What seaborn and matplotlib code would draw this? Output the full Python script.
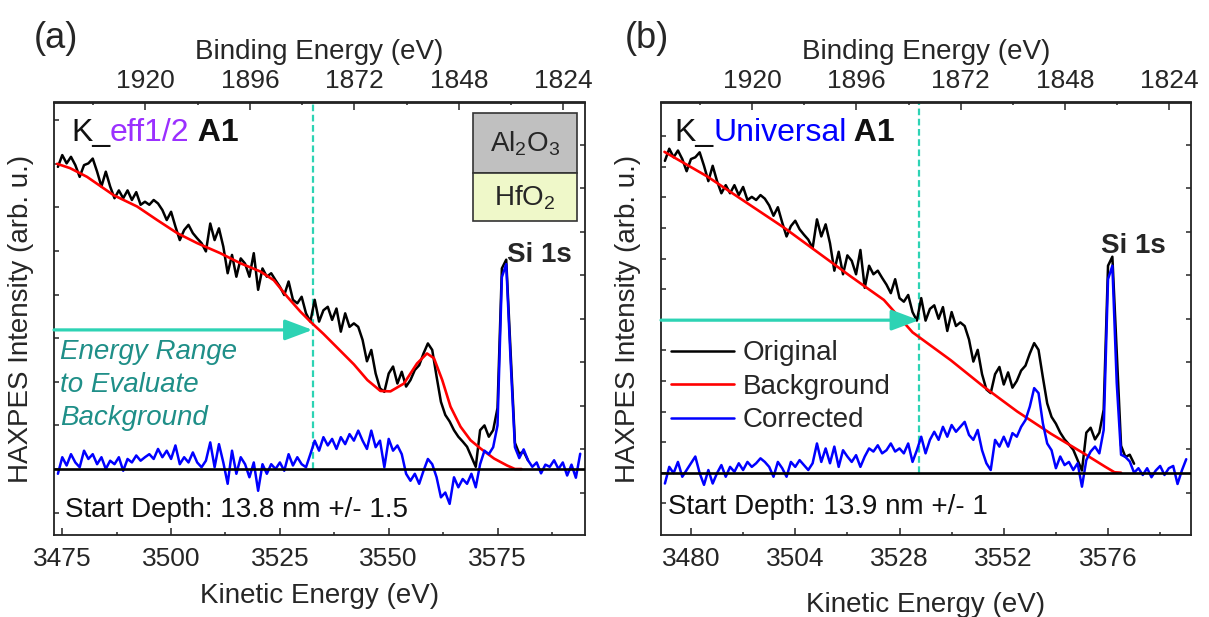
import numpy as np
import pandas as pd
import matplotlib.pyplot as plt
import matplotlib.ticker as mticker
from matplotlib.patches import Rectangle, ArrowStyle
import seaborn as sns

# kinetic energy grids of the spectra (eV)
ke_full = np.arange(3474, 3595)
ke_orig = np.arange(3474, 3583)

# measured spectrum (same for both panels)
original = [
    6.93, 7.20, 7.01, 7.16, 6.97, 6.70, 6.97, 7.01, 7.12, 6.82,
    6.48, 6.82, 6.48, 6.21, 6.39, 6.21, 6.39, 6.17, 6.35, 6.06,
    6.13, 6.06, 6.17, 6.09, 5.94, 5.71, 5.90, 5.56, 5.25, 5.48,
    5.60, 5.41, 5.29, 5.18, 4.99, 5.63, 5.25, 5.52, 5.10, 4.49,
    4.91, 4.41, 4.83, 4.71, 4.41, 4.95, 4.11, 4.60, 4.41, 4.49,
    4.33, 4.18, 3.99, 4.30, 3.88, 3.80, 3.95, 3.57, 3.38, 3.88,
    3.38, 3.64, 3.72, 3.42, 3.68, 3.15, 3.57, 3.26, 3.34, 3.26,
    2.96, 2.47, 2.73, 2.19, 1.85, 1.77, 2.19, 2.35, 1.96, 2.23,
    1.89, 2.04, 2.27, 2.38, 2.65, 2.88, 2.73, 2.12, 1.54, 1.24,
    1.09, 0.89, 0.74, 0.63, 0.51, 0.28, 0.05, 0.89, 1.00, 0.74,
    0.89, 1.40, 4.60, 4.80, 2.70, 0.60, 0.35, 0.40, 0.20,
]

# corrected spectra, K_eff1/2 (a) and K_Universal (b)
corrected_eff = [
    -0.11, 0.27, 0.08, 0.34, 0.15, 0.04, 0.42, 0.23, 0.34, 0.11,
    0.27, 0.00, 0.19, 0.11, 0.27, -0.04, 0.23, 0.15, 0.31, 0.19,
    0.27, 0.34, 0.23, 0.46, 0.27, 0.42, 0.23, 0.54, 0.11, 0.27,
    0.15, 0.38, 0.15, 0.04, 0.19, 0.61, 0.04, 0.57, 0.15, -0.34,
    0.42, -0.11, 0.27, 0.11, -0.19, 0.15, -0.50, 0.11, -0.11, 0.11,
    0.00, 0.15, -0.04, 0.34, 0.08, 0.27, 0.11, 0.04, 0.34, 0.65,
    0.42, 0.73, 0.54, 0.69, 0.46, 0.73, 0.57, 0.80, 0.65, 0.88,
    0.65, 0.46, 0.88, 0.50, 0.65, 0.04, 0.69, 0.42, 0.54, 0.34,
    -0.11, -0.27, -0.11, -0.34, -0.04, 0.23, 0.11, -0.19, -0.65, -0.54,
    -0.80, -0.19, -0.42, -0.23, -0.34, -0.11, -0.42, 0.11, 0.42, 0.34,
    0.50, 1.00, 4.40, 4.70, 2.50, 0.50, 0.25, 0.45, 0.20, 0.05,
    0.15, -0.10, 0.10, 0.05, 0.20, 0.00, 0.15, -0.15, 0.10, -0.20,
    0.35,
]
corrected_univ = [
    -0.24, 0.13, -0.01, 0.24, -0.09, 0.06, 0.21, 0.36, -0.01, -0.27,
    0.06, -0.24, -0.01, 0.17, -0.09, 0.13, 0.02, 0.21, 0.06, 0.24,
    0.13, 0.21, 0.32, 0.24, 0.13, -0.09, 0.24, 0.10, -0.09, 0.24,
    0.13, 0.28, 0.17, 0.06, 0.21, 0.65, 0.24, 0.54, 0.21, 0.58,
    0.13, 0.50, 0.36, 0.24, 0.39, 0.13, 0.36, 0.54, 0.47, 0.61,
    0.43, 0.50, 0.65, 0.47, 0.54, 0.43, 0.65, 0.24, 0.50, 0.80,
    0.43, 0.73, 0.91, 0.73, 1.02, 0.80, 1.06, 0.91, 1.02, 1.13,
    0.84, 0.73, 0.95, 0.50, 0.21, 0.06, 0.73, 0.58, 0.80, 0.58,
    0.88, 0.80, 1.02, 1.17, 1.47, 1.88, 1.77, 1.10, 0.65, 0.50,
    0.10, 0.36, 0.17, 0.24, 0.06, 0.21, -0.31, 0.28, 0.47, 0.58,
    0.43, 0.95, 4.30, 4.60, 2.00, 0.40, 0.35, 0.25, 0.00, 0.10,
    -0.05, 0.10, -0.10, 0.05, 0.15, -0.05, 0.10, 0.15, -0.25, 0.05,
    0.30,
]

# backgrounds
bg_eff_ke = [3473.8, 3476.8, 3480.7, 3486.8, 3492.2, 3496.8, 3501.4, 3506.0,
             3511.3, 3515.9, 3520.5, 3523.6, 3526.7, 3529.7, 3532.0, 3535.0,
             3538.0, 3542.0, 3545.1, 3548.1, 3550.4, 3553.5, 3556.5, 3558.8,
             3560.4, 3562.3, 3564.2, 3566.5, 3568.8, 3571.1, 3574.2, 3577.2,
             3579.0, 3580.5]
bg_eff = [7.00, 6.90, 6.70, 6.28, 6.02, 5.71, 5.41, 5.18,
          4.95, 4.72, 4.53, 4.33, 3.95, 3.61, 3.38, 3.10,
          2.80, 2.40, 2.04, 1.79, 1.78, 1.96, 2.42, 2.65,
          2.54, 2.04, 1.43, 0.97, 0.66, 0.47, 0.24, 0.08,
          0.00, 0.00]
bg_univ_ke = [3473.9, 3483.8, 3501.5, 3516.8, 3524.4, 3531.0, 3539.8, 3547.4,
              3555.1, 3562.8, 3570.4, 3575.4, 3577.5, 3579.0]
bg_univ = [7.13, 6.58, 5.44, 4.36, 3.84, 3.12, 2.50, 1.91,
           1.36, 0.87, 0.43, 0.13, 0.01, 0.00]

be_ticks = [1920, 1896, 1872, 1848, 1824]
be_minor = [1932, 1908, 1884, 1860, 1836]
ke_ticks_a = [3475, 3500, 3525, 3550, 3575]
ke_minor_a = [3487.5, 3512.5, 3537.5, 3562.5, 3587.5]
ke_ticks_b = [3480, 3504, 3528, 3552, 3576]
ke_minor_b = [3492, 3516, 3540, 3564, 3588]

e_sum = 5414.1        # binding + kinetic energy
range_start = 3532.5  # start of the energy range used for the background

CYAN = '#2dd3b4'
TEAL = '#1f8f88'

sns.set_theme(style='ticks')
plt.rcParams['font.family'] = ['Liberation Sans', 'DejaVu Sans']
plt.rcParams['axes.edgecolor'] = '#222222'
plt.rcParams['axes.linewidth'] = 1.3


def draw_panel(ax, corrected, bg_ke, bg, ylim, left_ticks, right_ticks,
               ke_ticks, ke_minor, arrow_y):
    spec = pd.DataFrame({'ke': ke_orig, 'y': original})
    corr = pd.DataFrame({'ke': ke_full, 'y': corrected})
    back = pd.DataFrame({'ke': bg_ke, 'y': bg})

    sns.lineplot(data=spec, x='ke', y='y', ax=ax, color='black', lw=1.8,
                 label='Original', legend=False, estimator=None, sort=False)
    sns.lineplot(data=back, x='ke', y='y', ax=ax, color='#ff0000', lw=1.9,
                 label='Background', legend=False, estimator=None, sort=False)
    sns.lineplot(data=corr, x='ke', y='y', ax=ax, color='#0000ff', lw=1.8,
                 label='Corrected', legend=False, estimator=None, sort=False)
    ax.axhline(0, color='black', lw=1.9, zorder=4)

    ax.vlines(range_start, 0, ylim[1], color=CYAN, lw=1.6,
              linestyles=(0, (3, 1.6)), zorder=1.5)
    ax.annotate('', xy=(range_start, arrow_y), xycoords='data',
                xytext=(0, arrow_y), textcoords=('axes fraction', 'data'),
                arrowprops=dict(arrowstyle=ArrowStyle('-|>', head_length=0.8, head_width=0.3),
                                color=CYAN, lw=2.3, mutation_scale=21,
                                shrinkA=0, shrinkB=0), zorder=5)

    ax.set_xlim(3473.1, 3595.1)
    ax.set_ylim(*ylim)

    ax.xaxis.set_major_locator(mticker.FixedLocator(ke_ticks))
    ax.xaxis.set_minor_locator(mticker.FixedLocator(ke_minor))
    ax.tick_params(axis='x', which='both', direction='in', top=False,
                   labelsize=19, pad=9, width=1.1, color='#222222')
    ax.tick_params(axis='x', which='major', length=5.4)
    ax.tick_params(axis='x', which='minor', length=2.5)

    ax.yaxis.set_major_locator(mticker.FixedLocator(left_ticks))
    ax.yaxis.set_minor_locator(mticker.FixedLocator(right_ticks))
    ax.tick_params(axis='y', which='major', direction='in', left=True,
                   right=False, labelleft=False, length=3.6, width=1.1)
    ax.tick_params(axis='y', which='minor', direction='in', left=False,
                   right=True, length=3.6, width=1.1)

    sec = ax.secondary_xaxis('top', functions=(lambda k: e_sum - k,
                                               lambda b: e_sum - b))
    sec.xaxis.set_major_locator(mticker.FixedLocator(be_ticks))
    sec.xaxis.set_minor_locator(mticker.FixedLocator(be_minor))
    sec.tick_params(axis='x', which='both', direction='in', labelsize=19,
                    pad=7, width=1.1)
    sec.tick_params(axis='x', which='major', length=5.4)
    sec.tick_params(axis='x', which='minor', length=2.5)
    sec.spines['top'].set_linewidth(1.3)
    sec.set_xlabel('Binding Energy (eV)', fontsize=20, labelpad=7)

    ax.set_ylabel('HAXPES Intensity (arb. u.)', fontsize=20, labelpad=11)
    return sec


def method_label(ax, x, y, name, color):
    t1 = ax.text(x, y, 'K_', transform=ax.transAxes, fontsize=23,
                 va='baseline', color='#111111')
    t2 = ax.annotate(name, xy=(1, 0), xycoords=t1, va='bottom',
                     fontsize=23, color=color)
    ax.annotate(' A1', xy=(1, 0), xycoords=t2, va='bottom',
                fontsize=23, fontweight='bold', color='#111111')


fig = plt.figure(figsize=(12.09, 6.17), dpi=100)
ax_a = fig.add_axes([54 / 1209, 1 - 535 / 617, 531 / 1209, 432.5 / 617])
ax_b = fig.add_axes([661 / 1209, 1 - 535 / 617, 530 / 1209, 432.5 / 617])

# ---- panel (a): K_eff1/2 ----
draw_panel(ax_a, corrected_eff, bg_eff_ke, bg_eff, (-1.514, 8.406),
           np.arange(-1, 9) * 1.0, np.arange(9) * 0.998 - 0.544,
           ke_ticks_a, ke_minor_a, 3.19)
ax_a.set_xlabel('Kinetic Energy (eV)', fontsize=20, labelpad=8)
method_label(ax_a, 0.032, 0.912, 'eff1/2', '#9b30ff')
ax_a.text(0.853, 0.631, 'Si 1s', transform=ax_a.transAxes, fontsize=20,
          fontweight='bold', va='baseline')
for i, line in enumerate(['Energy Range', 'to Evaluate', 'Background']):
    ax_a.text(0.012, 0.4238 - i * 0.077, line, transform=ax_a.transAxes,
              fontsize=20, style='italic', color=TEAL, va='center')
ax_a.text(0.0207, 0.0578, 'Start Depth: 13.8 nm +/- 1.5',
          transform=ax_a.transAxes, fontsize=20, va='center', color='#111111')

# layer stack sketch
ax_a.add_patch(Rectangle((0.789, 0.837), 0.196, 0.139, transform=ax_a.transAxes,
                         facecolor='#c0c0c0', edgecolor='#333333', lw=1.2, zorder=6))
ax_a.add_patch(Rectangle((0.789, 0.726), 0.196, 0.111, transform=ax_a.transAxes,
                         facecolor='#eff8c9', edgecolor='#333333', lw=1.2, zorder=6))
ax_a.text(0.887, 0.905, r'Al$_{\mathregular{2}}$O$_{\mathregular{3}}$',
          transform=ax_a.transAxes, fontsize=20, ha='center', va='center', zorder=7)
ax_a.text(0.887, 0.78, r'HfO$_{\mathregular{2}}$',
          transform=ax_a.transAxes, fontsize=20, ha='center', va='center', zorder=7)

# ---- panel (b): K_Universal ----
draw_panel(ax_b, corrected_univ, bg_univ_ke, bg_univ, (-1.384, 8.227),
           np.arange(-1, 12) * 0.68, np.arange(9) * 0.967 - 0.444,
           ke_ticks_b, ke_minor_b, 3.39)
ax_b.set_xlabel('Kinetic Energy (eV)', fontsize=20, labelpad=15)
method_label(ax_b, 0.0245, 0.912, 'Universal', '#0000ff')
ax_b.text(0.830, 0.652, 'Si 1s', transform=ax_b.transAxes, fontsize=20,
          fontweight='bold', va='baseline')
ax_b.text(0.0132, 0.0654, 'Start Depth: 13.9 nm +/- 1',
          transform=ax_b.transAxes, fontsize=20, va='center', color='#111111')
ax_b.legend(handles=ax_b.lines[:3], labels=['Original', 'Background', 'Corrected'],
            loc='upper left', bbox_to_anchor=(0.019, 0.45), frameon=False,
            fontsize=20, handlelength=2.27, handletextpad=0.32,
            labelspacing=0.27, borderpad=0, borderaxespad=0)

fig.text(56 / 1209, 1 - 39 / 617, '(a)', fontsize=26, ha='center', va='center')
fig.text(647 / 1209, 1 - 39 / 617, '(b)', fontsize=26, ha='center', va='center')

fig.savefig('out.png', dpi=100)
